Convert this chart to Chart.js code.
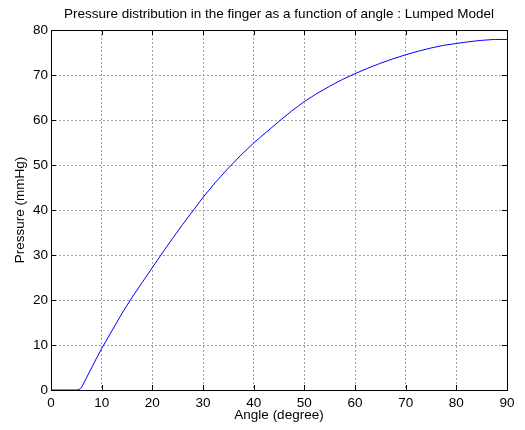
<!DOCTYPE html>
<html>
<head>
<meta charset="utf-8">
<script src="https://cdn.jsdelivr.net/npm/chart.js@4"></script>
<style>
	html, body { margin: 0; padding: 0; background: #ffffff; }
	#wrap { width: 525px; height: 430px; }
</style>
</head>
<body>
<div id="wrap"><canvas id="pressureChart"></canvas></div>
<script>
// Data
var angles = [0, 5, 5.5, 6, 7, 8, 9, 10, 12, 14, 16, 18, 20, 22, 24, 26, 28, 30,
	32.5, 35, 37.5, 40, 42.5, 45, 47.5, 50, 52.5, 55, 57.5, 60, 62.5, 65, 67.5,
	70, 72.5, 75, 77.5, 80, 82.5, 85, 87.5, 90];
var pressure = [0, 0, 0.1, 0.5, 2.7, 4.9, 7.1, 9.2, 13.1, 17.0, 20.6, 23.9, 27.2, 30.5,
	33.7, 36.8, 39.8, 42.8, 46.2, 49.3, 52.2, 54.9, 57.3, 59.7, 62.0, 64.1, 65.9,
	67.5, 69.0, 70.3, 71.5, 72.6, 73.6, 74.5, 75.3, 76.0, 76.6, 77.0, 77.4, 77.7,
	77.9, 77.9];

var xTicks = [0, 10, 20, 30, 40, 50, 60, 70, 80, 90];
var yTicks = [0, 10, 20, 30, 40, 50, 60, 70, 80];

var fontFamily = '"Liberation Sans", Arial, Helvetica, sans-serif';
var fontSize = 13.5;

// MATLAB style box with inward tick marks
var boxPlugin = {
	id: 'matlabBox',
	afterDatasetsDraw: function (chart) {
		var ctx = chart.ctx;
		var area = chart.chartArea;
		var xs = chart.scales.x;
		var ys = chart.scales.y;
		var len = 5;
		ctx.save();
		ctx.strokeStyle = '#000000';
		ctx.lineWidth = 1;
		ctx.beginPath();
		xs.ticks.forEach(function (t, i) {
			var px = Math.round(xs.getPixelForTick(i)) + 0.5;
			ctx.moveTo(px, area.bottom);
			ctx.lineTo(px, area.bottom - len);
			ctx.moveTo(px, area.top);
			ctx.lineTo(px, area.top + len);
		});
		ys.ticks.forEach(function (t, i) {
			var py = Math.round(ys.getPixelForTick(i)) + 0.5;
			ctx.moveTo(area.left, py);
			ctx.lineTo(area.left + len, py);
			ctx.moveTo(area.right, py);
			ctx.lineTo(area.right - len, py);
		});
		ctx.stroke();
		ctx.strokeRect(Math.round(area.left) + 0.5, Math.round(area.top) + 0.5,
			Math.round(area.right - area.left), Math.round(area.bottom - area.top));
		ctx.restore();
	}
};

var points = angles.map(function (a, i) {
	return { x: a, y: pressure[i] };
});

var config = {
	type: 'line',
	data: {
		datasets: [{
			data: points,
			borderColor: '#0000ff',
			borderWidth: 1,
			pointRadius: 0,
			tension: 0,
			fill: false
		}]
	},
	options: {
		responsive: true,
		maintainAspectRatio: false,
		animation: false,
		layout: {
			padding: { left: 0, right: 18, top: 0, bottom: 0 }
		},
		plugins: {
			legend: { display: false },
			tooltip: { enabled: false },
			title: {
				display: true,
				fullSize: false,
				text: 'Pressure distribution in the finger as a function of angle : Lumped Model',
				color: '#000000',
				font: { family: fontFamily, size: fontSize, weight: 'normal' },
				padding: { top: 6, bottom: 7.8 }
			}
		},
		scales: {
			x: {
				type: 'linear',
				min: 0,
				max: 90,
				afterBuildTicks: function (scale) {
					scale.ticks = xTicks.map(function (v) { return { value: v }; });
				},
				afterFit: function (scale) { scale.height = 40; },
				grid: {
					color: '#a0a0a0',
					drawTicks: false
				},
				border: { display: false, dash: [2, 2] },
				ticks: {
					color: '#000000',
					padding: 5,
					maxRotation: 0,
					font: { family: fontFamily, size: fontSize }
				},
				title: {
					display: true,
					text: 'Angle (degree)',
					color: '#000000',
					font: { family: fontFamily, size: fontSize },
					padding: { top: 0, bottom: 7 }
				}
			},
			y: {
				type: 'linear',
				min: 0,
				max: 80,
				afterBuildTicks: function (scale) {
					scale.ticks = yTicks.map(function (v) { return { value: v }; });
				},
				afterFit: function (scale) { scale.width = 51; },
				grid: {
					color: '#a0a0a0',
					drawTicks: false
				},
				border: { display: false, dash: [2, 2] },
				ticks: {
					color: '#000000',
					padding: 3,
					font: { family: fontFamily, size: fontSize }
				},
				title: {
					display: true,
					text: 'Pressure (mmHg)',
					color: '#000000',
					font: { family: fontFamily, size: fontSize },
					padding: { top: 12, bottom: 0 }
				}
			}
		}
	},
	plugins: [boxPlugin]
};

var ctx = document.getElementById('pressureChart');
var pressureChart = new Chart(ctx, config);
</script>
</body>
</html>
